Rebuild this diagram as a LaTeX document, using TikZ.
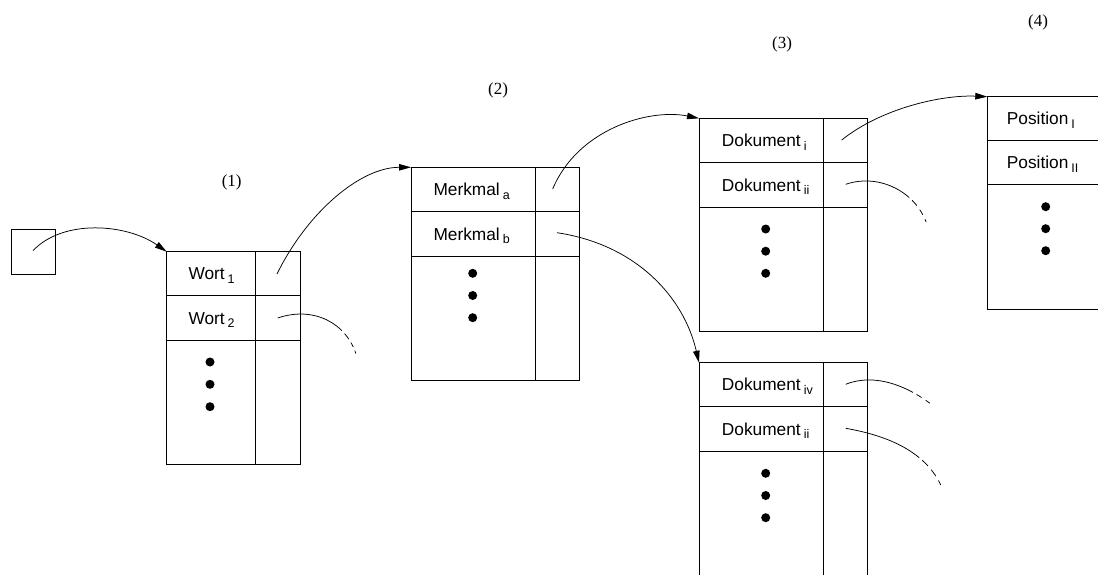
\documentclass[tikz,border=0pt]{standalone}
\usepackage{fontspec}
\setmainfont{Liberation Serif}
\newfontfamily\cellfont{Liberation Sans}
\usetikzlibrary{arrows.meta}

% lowered index after an entry name
\newcommand\lowidx[1]{\kern3pt\raisebox{-3.5pt}{\fontsize{12.5}{12.5}\selectfont #1}}

\begin{document}
\begin{tikzpicture}[x=1pt,y=-1pt,
  frame/.style={draw, line width=0.8pt},
  entry/.style={anchor=base west, inner sep=0pt, font=\cellfont\fontsize{17.3}{20}\selectfont},
  lvl/.style={inner sep=0pt, font=\fontsize{17}{20}\selectfont},
  ptr/.style={line width=0.75pt, -{Triangle[length=12pt,width=6.5pt]}},
  tail/.style={line width=0.75pt},
  bullet/.style={circle, fill, inner sep=0pt, minimum size=9pt},
]
\clip (0,0) rectangle (1098,575);

% level labels
\node[lvl] (l1) at (231.7,182) {(1)};
\node[lvl] (l2) at (498,90) {(2)};
\node[lvl] (l3) at (782,44) {(3)};
\node[lvl] (l4) at (1038,22) {(4)};

% start cell
\node[frame, anchor=north west, minimum width=44.7pt, minimum height=45pt, inner sep=0pt, outer sep=0pt] (sq) at (11,229) {};
\coordinate (s0) at (33,250.7);

% table (1): words
\node[frame, anchor=north west, minimum width=133.3pt, minimum height=212.3pt, inner sep=0pt, outer sep=0pt] (t1) at (166.7,251.7) {};
\draw[frame] (255.3,251.7) -- (255.3,464);
\draw[frame] (166.7,295.7) -- (300,295.7);
\draw[frame] (166.7,340.3) -- (300,340.3);
\node[entry] (w1) at (188.3,279.9) {Wort\lowidx{1}};
\node[entry] (w2) at (188.3,324.2) {Wort\lowidx{2}};
\node[bullet] (t1d1) at (210,362) {};
\node[bullet] (t1d2) at (210,384.3) {};
\node[bullet] (t1d3) at (210,406.7) {};
\coordinate (p1a) at (277,274);
\coordinate (p1b) at (277.7,318);
\coordinate (e1b) at (357,357);

% table (2): features
\node[frame, anchor=north west, minimum width=168.3pt, minimum height=212.7pt, inner sep=0pt, outer sep=0pt] (t2) at (411,167.3) {};
\draw[frame] (535,167.3) -- (535,380);
\draw[frame] (411,211.7) -- (579.3,211.7);
\draw[frame] (411,256) -- (579.3,256);
\node[entry] (m1) at (433.3,195.7) {Merkmal\lowidx{a}};
\node[entry] (m2) at (433.3,240) {Merkmal\lowidx{b}};
\node[bullet] (t2d1) at (472.7,273.3) {};
\node[bullet] (t2d2) at (472.7,295.5) {};
\node[bullet] (t2d3) at (472.7,317.7) {};
\coordinate (p2a) at (552.7,189);
\coordinate (p2b) at (557,232.7);

% table (3): documents of feature a
\node[frame, anchor=north west, minimum width=168.7pt, minimum height=213.4pt, inner sep=0pt, outer sep=0pt] (t3) at (699,118.3) {};
\draw[frame] (823.3,118.3) -- (823.3,331.7);
\draw[frame] (699,162.7) -- (867.7,162.7);
\draw[frame] (699,207.3) -- (867.7,207.3);
\node[entry] (d31) at (721.7,146.7) {Dokument\lowidx{i}};
\node[entry] (d32) at (721.7,191.2) {Dokument\lowidx{ii}};
\node[bullet] (t3d1) at (765.7,229) {};
\node[bullet] (t3d2) at (765.7,251.2) {};
\node[bullet] (t3d3) at (765.7,273.3) {};
\coordinate (p3a) at (841.7,140);
\coordinate (p3b) at (845.7,184.3);
\coordinate (e3b) at (929,231.7);

% table (3): documents of feature b
\node[frame, anchor=north west, minimum width=168.7pt, minimum height=213pt, inner sep=0pt, outer sep=0pt] (t4) at (699,362.7) {};
\draw[frame] (823.3,362.7) -- (823.3,575.7);
\draw[frame] (699,406.7) -- (867.7,406.7);
\draw[frame] (699,451) -- (867.7,451);
\node[entry] (d41) at (721.7,390.9) {Dokument\lowidx{iv}};
\node[entry] (d42) at (721.7,435) {Dokument\lowidx{ii}};
\node[bullet] (t4d1) at (765.7,473.3) {};
\node[bullet] (t4d2) at (765.7,495.5) {};
\node[bullet] (t4d3) at (765.7,517.7) {};
\coordinate (p4a) at (845.7,384.3);
\coordinate (p4b) at (845.7,428.3);
\coordinate (e4a) at (934.3,406.7);
\coordinate (e4b) at (943.3,491);

% table (4): positions
\node[frame, anchor=north west, minimum width=168.7pt, minimum height=212.6pt, inner sep=0pt, outer sep=0pt] (t5) at (987.3,96.7) {};
\draw[frame] (1111.6,96.7) -- (1111.6,309.3);
\draw[frame] (987.3,140.7) -- (1156,140.7);
\draw[frame] (987.3,184.3) -- (1156,184.3);
\node[entry] (q1) at (1006.7,124.9) {Position\lowidx{I}};
\node[entry] (q2) at (1006.7,168.7) {Position\lowidx{II}};
\node[bullet] (t5d1) at (1045.7,206.7) {};
\node[bullet] (t5d2) at (1045.7,228.7) {};
\node[bullet] (t5d3) at (1045.7,250.7) {};

% links between the tables
\draw[ptr] (s0) .. controls +(30,-32) and +(-40,-28) .. (t1.north west);
\draw[ptr] (p1a) .. controls +(31,-63) and +(-50,0) .. (t2.north west);
\draw[ptr] (p2a) .. controls +(25,-60) and +(-50,-10) .. (t3.north west);
\draw[ptr] (p2b) .. controls +(80,12) and +(-15,-65) .. (t4.north west);
\draw[ptr] (p3a) .. controls +(40,-32) and +(-45,-2) .. (t5.north west);

% links that continue beyond the drawing
\draw[tail, dash pattern=on 69pt off 4pt on 7pt off 4pt on 5pt off 4pt on 3pt off 20pt]
  (p1b) .. controls +(35,-12) and +(-10,-35) .. (e1b);
\draw[tail, dash pattern=on 68pt off 4pt on 7pt off 5pt on 6pt off 5pt on 3pt off 20pt]
  (p3b) .. controls +(35,-12) and +(-8,-38) .. (e3b);
\draw[tail, dash pattern=on 70pt off 4pt on 6pt off 5pt on 5pt off 20pt]
  (p4a) .. controls +(30,-12) and +(-25,-20) .. (e4a);
\draw[tail, dash pattern=on 80pt off 4pt on 8pt off 5pt on 8pt off 5pt on 5pt off 20pt]
  (p4b) .. controls +(40,7) and +(-15,-40) .. (e4b);
\end{tikzpicture}
\end{document}
